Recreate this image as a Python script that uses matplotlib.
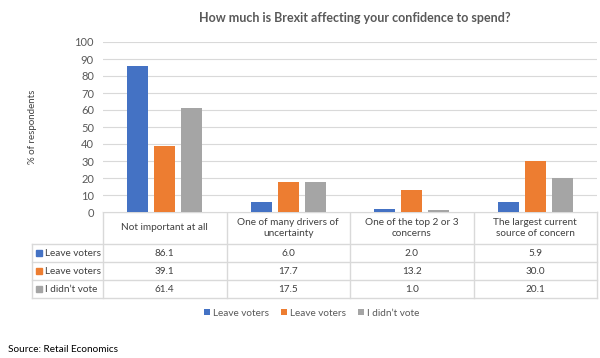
import numpy as np
import matplotlib.pyplot as plt
from matplotlib.patches import Rectangle

plt.rcParams['font.family'] = ['Lato', 'DejaVu Sans']

categories = ['Not important at all', 'One of many drivers of\nuncertainty',
              'One of the top 2 or 3\nconcerns', 'The largest current\nsource of concern']
series = ['Leave voters', 'Leave voters', "I didn\u2019t vote"]
leave = [86.1, 6.0, 2.0, 5.9]
remain = [39.1, 17.7, 13.2, 30.0]
novote = [61.4, 17.5, 1.0, 20.1]
colors = ['#4472C4', '#ED7D31', '#A5A5A5']

W, H = 600, 358
fig = plt.figure(figsize=(6, 3.58), dpi=100)

# pixel layout
ax_l, ax_r, ax_t, ax_b = 103, 597, 42, 212
ax = fig.add_axes([ax_l / W, 1 - ax_b / H, (ax_r - ax_l) / W, (ax_b - ax_t) / H])

x = np.arange(len(categories))
vals = [leave, remain, novote]
offs = [-0.22, 0, 0.22]
bars = []
for v, o, c, s in zip(vals, offs, colors, series):
    bars.append(ax.bar(x + o, v, width=0.17, color=c, label=s, zorder=3))

ax.set_xlim(-0.5, len(categories) - 0.5)
ax.set_ylim(0, 100)
ax.set_yticks(range(0, 101, 10))
ax.tick_params(axis='y', length=0, labelsize=8, colors='#595959', pad=6.5)
ax.set_xticks([])
ax.grid(axis='y', color='#d9d9d9', lw=0.8, zorder=0)
for sp in ax.spines.values():
    sp.set_visible(False)
ax.set_ylabel('% of respondents', fontsize=7, color='#404040', labelpad=27)

fig.text(355 / W, 1 - 18 / H, 'How much is Brexit affecting your confidence to spend?',
         ha='center', va='center', fontsize=9, fontweight='bold', color='#595959')

# data table in pixel coords
tab = fig.add_axes([0, 0, 1, 1], zorder=-1)
tab.set_xlim(0, W)
tab.set_ylim(H, 0)
tab.axis('off')
lc = '#d9d9d9'
n = len(categories)
col_w = (ax_r - ax_l) / n
cols = [ax_l + i * col_w for i in range(n + 1)]
head_b = 244
row_h = 18
row_y = [head_b + i * row_h for i in range(len(series) + 1)]
tab_l = 32

tab.plot([ax_l, ax_r], [ax_b, ax_b], color=lc, lw=1)
for cx in cols:
    tab.plot([cx, cx], [ax_b, row_y[-1]], color=lc, lw=1)
tab.plot([tab_l, tab_l], [head_b, row_y[-1]], color=lc, lw=1)
for ry in row_y:
    tab.plot([tab_l, ax_r], [ry, ry], color=lc, lw=1)

for i, cat in enumerate(categories):
    tab.text(cols[i] + col_w / 2, (ax_b + head_b) / 2, cat, ha='center', va='center',
             fontsize=7.2, color='#404040', linespacing=1.4)

for j, (s, v, c) in enumerate(zip(series, vals, colors)):
    yc = row_y[j] + row_h / 2
    tab.add_patch(Rectangle((tab_l + 4, yc - 3), 6, 6, color=c))
    tab.text(tab_l + 13, yc, s, ha='left', va='center', fontsize=7.2, color='#404040')
    for i, val in enumerate(v):
        tab.text(cols[i] + col_w / 2, yc, f'{val:.1f}', ha='center', va='center',
                 fontsize=7.2, color='#404040')

fig.legend(handles=bars, labels=series, loc='center', bbox_to_anchor=(312 / W, 1 - 313 / H),
           ncol=3, frameon=False, fontsize=7.2, handlelength=0.6, handleheight=0.6,
           handletextpad=0.3, columnspacing=1.2, labelcolor='#595959')

fig.text(8 / W, 1 - 349 / H, 'Source: Retail Economics', ha='left', va='center',
         fontsize=7.2, color='#000000')

fig.savefig('out.png', dpi=100, facecolor='white')
